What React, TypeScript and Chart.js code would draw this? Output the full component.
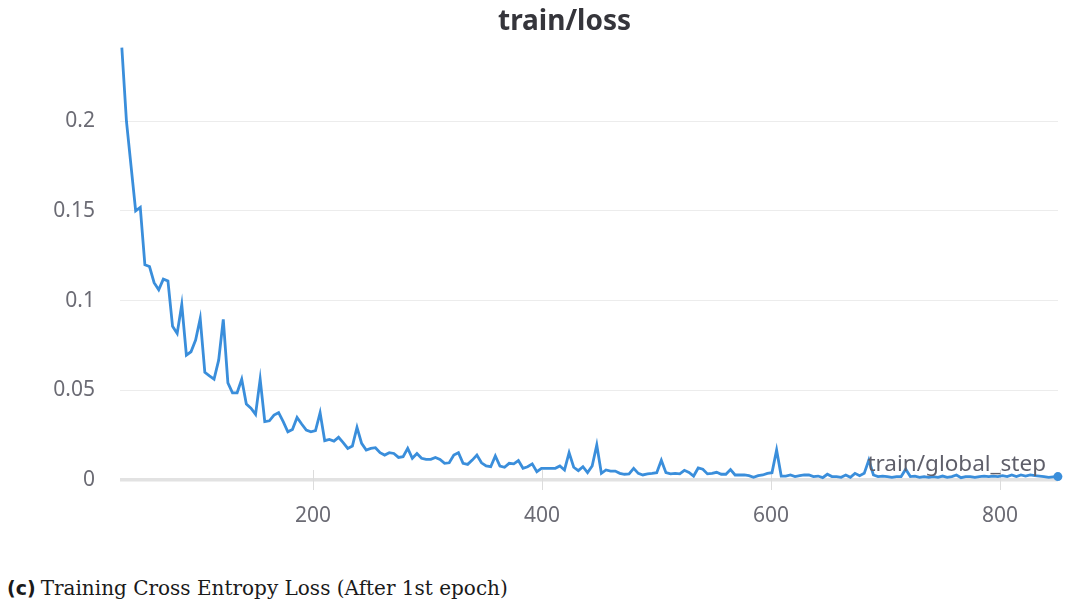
import { useEffect, useRef } from "react";
import { Chart, registerables } from "chart.js";

Chart.register(...registerables);

// train/loss values, one every ~4 global steps
const LOSS: number[] = [
  0.241, 0.2, 0.175, 0.15, 0.152, 0.12, 0.119, 0.11, 0.106, 0.112, 0.111, 0.0857, 0.0817, 0.0978,
  0.0696, 0.0715, 0.078, 0.09, 0.06, 0.058, 0.0562, 0.0668, 0.0895, 0.0542, 0.0486, 0.0486, 0.0562,
  0.0423, 0.04, 0.0366, 0.0562, 0.0325, 0.033, 0.0362, 0.0375, 0.0325, 0.0269, 0.0282, 0.0349,
  0.0312, 0.0278, 0.0269, 0.0275, 0.0375, 0.0219, 0.0226, 0.0217, 0.0238, 0.0208, 0.0176, 0.0189,
  0.0293, 0.0204, 0.0167, 0.0176, 0.018, 0.0152, 0.0139, 0.0152, 0.0148, 0.0126,
  0.013, 0.0176, 0.0121, 0.0148, 0.0121, 0.0115, 0.0115, 0.0126, 0.0115, 0.0093,
  0.0096, 0.0139, 0.0152, 0.0093, 0.0087, 0.0111, 0.0139, 0.0096, 0.0078, 0.0074,
  0.0134, 0.0078, 0.0071, 0.0093, 0.009, 0.0108, 0.0065, 0.0074, 0.009, 0.0046,
  0.0065, 0.0065, 0.0065, 0.0065, 0.0078, 0.0056, 0.0152, 0.0071, 0.0052, 0.0074,
  0.0041, 0.0078, 0.0195, 0.0037, 0.0056, 0.005, 0.005, 0.0037, 0.0032, 0.0034,
  0.0065, 0.0037, 0.0028, 0.0034, 0.0037, 0.0041, 0.011, 0.0041, 0.0034, 0.0037,
  0.0034, 0.0054, 0.0042,
  0.0022, 0.0067, 0.006, 0.0034, 0.0037, 0.0043, 0.0032, 0.0032, 0.0058, 0.0028,
  0.0028, 0.0028, 0.0024, 0.0015, 0.0024, 0.0028, 0.0037, 0.0041, 0.0167, 0.0022,
  0.0022, 0.0028, 0.0019, 0.0024, 0.0028, 0.0028, 0.0019, 0.0022, 0.0013, 0.0032,
  0.0019, 0.0019, 0.0015, 0.0028, 0.0015, 0.0037, 0.0024, 0.0037, 0.0111, 0.0028,
  0.0019, 0.0022, 0.0019, 0.0015, 0.0019, 0.0019, 0.006, 0.0019, 0.0022, 0.0015,
  0.0019, 0.0015, 0.0019, 0.0015, 0.0022, 0.0015, 0.0019, 0.0028, 0.0013, 0.0019,
  0.0019, 0.0015, 0.0019, 0.0022, 0.0019, 0.0022, 0.0019, 0.0024, 0.0019, 0.0028,
  0.0019, 0.0028, 0.0022, 0.0028, 0.0024, 0.0022, 0.0019, 0.0015, 0.0017, 0.0019,
];

const FIRST_STEP = 33;
const LAST_STEP = 850.5;
// evenly logged global steps
const STEPS: number[] = LOSS.map(
  (_, i) => FIRST_STEP + (i * (LAST_STEP - FIRST_STEP)) / (LOSS.length - 1)
);

const X_MIN = 31.4;
const X_MAX = 850.6;
const X_TICKS = [200, 400, 600, 800];
const Y_MIN = 0;
const Y_MAX = 0.2425;
const Y_TICKS = [0, 0.05, 0.1, 0.15, 0.2];
const Y_TICK_LABELS = ["0", "0.05", "0.1", "0.15", "0.2"];

const TITLE = "train/loss";
const X_LABEL = "train/global_step";
const CAPTION_TAG = "(c)";
const CAPTION = "Training Cross Entropy Loss (After 1st epoch)";

const LINE_COLOR = "#3a8edb";
const TICK_COLOR = "#6b6b74";
const FONT = "'Noto Sans', sans-serif";

export default function App() {
  const canvasRef = useRef<HTMLCanvasElement | null>(null);

  useEffect(() => {
    const canvas = canvasRef.current;
    if (!canvas) return;

    const overlay = {
      id: "wandbOverlay",
      beforeDatasetsDraw(chart: any) {
        const { ctx, chartArea } = chart;
        const xs = chart.scales.x;
        ctx.save();
        ctx.strokeStyle = "#dcdcdc";
        ctx.lineWidth = 1;
        for (const v of X_TICKS) {
          const px = Math.round(xs.getPixelForValue(v)) + 0.5;
          ctx.beginPath();
          ctx.moveTo(px, chartArea.bottom - 10);
          ctx.lineTo(px, chartArea.bottom + 10);
          ctx.stroke();
        }
        ctx.restore();
      },
      afterDraw(chart: any) {
        const { ctx, chartArea } = chart;
        ctx.save();
        ctx.font = `22.5px ${FONT}`;
        ctx.fillStyle = "#5f5f6a";
        ctx.textAlign = "right";
        ctx.textBaseline = "alphabetic";
        ctx.fillText(X_LABEL, chartArea.right - 12, chartArea.bottom - 9);
        ctx.font = `bold 28px ${FONT}`;
        ctx.fillStyle = "#35353b";
        ctx.textAlign = "center";
        ctx.textBaseline = "middle";
        ctx.fillText(TITLE, 564.5, 21.8);
        ctx.restore();
      },
    };

    const chart = new Chart(canvas, {
      type: "line",
      data: {
        datasets: [
          {
            data: STEPS.map((s, i) => ({ x: s, y: LOSS[i] })),
            borderColor: LINE_COLOR,
            backgroundColor: LINE_COLOR,
            borderWidth: 2.8,
            tension: 0,
            clip: false as any,
            pointRadius: (c: any) => (c.dataIndex === LOSS.length - 1 ? 4.5 : 0),
            pointBorderWidth: 0,
            pointBackgroundColor: LINE_COLOR,
          },
        ],
      },
      options: {
        animation: false,
        responsive: true,
        maintainAspectRatio: false,
        layout: { padding: { left: 30, right: 18, top: 45, bottom: 10 } },
        plugins: {
          legend: { display: false },
          tooltip: { enabled: false },
          title: { display: false },
        },
        scales: {
          x: {
            type: "linear",
            min: X_MIN,
            max: X_MAX,
            afterBuildTicks: (s: any) => {
              s.ticks = X_TICKS.map((v) => ({ value: v }));
            },
            afterFit: (s: any) => {
              s.height = 60;
            },
            grid: { display: false, drawTicks: false },
            border: { display: false },
            ticks: {
              color: TICK_COLOR,
              font: { family: FONT, size: 21 },
              padding: 23,
              maxRotation: 0,
              callback: (v: any) => String(v),
            },
          },
          y: {
            type: "linear",
            min: Y_MIN,
            max: Y_MAX,
            afterBuildTicks: (s: any) => {
              s.ticks = Y_TICKS.map((v) => ({ value: v }));
            },
            afterFit: (s: any) => {
              s.width = 90;
            },
            grid: {
              drawTicks: false,
              color: (c: any) => (c.tick && c.tick.value === 0 ? "#e2e2e2" : "#ececec"),
              lineWidth: (c: any) => (c.tick && c.tick.value === 0 ? 3.5 : 1),
            },
            border: { display: false },
            ticks: {
              color: TICK_COLOR,
              font: { family: FONT, size: 21 },
              padding: 25,
              callback: (v: any) => {
                const k = Y_TICKS.indexOf(v);
                return k >= 0 ? Y_TICK_LABELS[k] : "";
              },
            },
          },
        },
      },
      plugins: [overlay],
    });

    return () => chart.destroy();
  }, []);

  return (
    <div
      style={{
        position: "fixed",
        left: 0,
        top: 0,
        width: 1076,
        height: 601,
        background: "#ffffff",
        overflow: "hidden",
      }}
    >
      <div style={{ position: "absolute", left: 0, top: 0, width: 1076, height: 550 }}>
        <canvas ref={canvasRef} />
      </div>
      <div
        style={{
          position: "absolute",
          left: 7,
          top: 576,
          fontSize: 20,
          lineHeight: "24px",
          whiteSpace: "nowrap",
          color: "#1a1a1a",
        }}
      >
        <span style={{ fontFamily: "'DejaVu Sans', sans-serif", fontWeight: "bold", fontSize: 19 }}>
          {CAPTION_TAG}
        </span>
        <span style={{ fontFamily: "'DejaVu Serif', serif", marginLeft: 5 }}>{CAPTION}</span>
      </div>
    </div>
  );
}
